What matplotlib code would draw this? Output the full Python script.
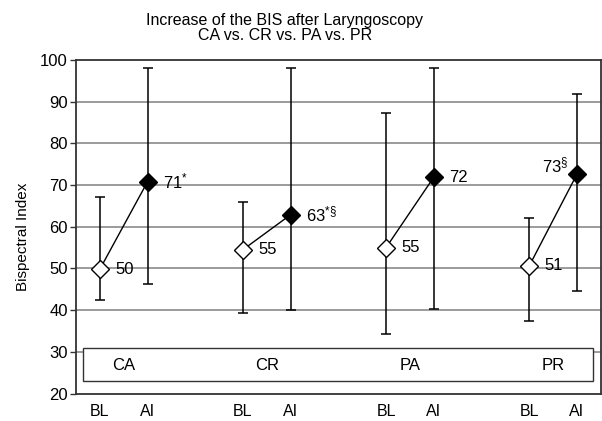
import matplotlib
matplotlib.use("Agg")
import matplotlib.pyplot as plt
from matplotlib.patches import Rectangle

plt.rcParams['font.family'] = ['Liberation Sans', 'DejaVu Sans']
plt.rcParams['mathtext.fontset'] = 'custom'
plt.rcParams['mathtext.rm'] = 'Liberation Sans'
plt.rcParams['mathtext.it'] = 'Liberation Sans'
plt.rcParams['mathtext.bf'] = 'Liberation Sans'

groups = ["CA", "CR", "PA", "PR"]
tick_labels = ["BL", "AI"]
bl_mean = [49.8, 54.5, 55.0, 50.6]
ai_mean = [70.8, 62.9, 71.9, 72.6]
bl_upper = [67.2, 66.0, 87.3, 62.2]
bl_lower = [42.4, 39.3, 34.3, 37.4]
ai_upper = [98.2, 98.2, 98.0, 91.9]
ai_lower = [46.2, 40.0, 40.2, 44.5]
bl_text = ["50", "55", "55", "51"]
ai_text = [r"71$^{*}$", r"63$^{*\S}$", "72", r"73$^{\S}$"]

fig = plt.figure(figsize=(6.02, 4.21), dpi=100)
bottom = 1 - 393.5 / 421
top = 1 - 60 / 421
ax = fig.add_axes([0.1262, bottom, 0.998 - 0.1262, top - bottom])

ax.set_xlim(-0.5, 10.5)
ax.set_ylim(20, 100)
ax.set_yticks(range(20, 101, 10))
for y in range(30, 100, 10):
    ax.axhline(y, color="#808080", lw=1.1, zorder=0)

bl_x = [3 * i for i in range(len(groups))]
ai_x = [3 * i + 1 for i in range(len(groups))]

for i in range(len(groups)):
    ax.plot([bl_x[i], ai_x[i]], [bl_mean[i], ai_mean[i]], color="black", lw=1.0, zorder=3)

ax.errorbar(bl_x, bl_mean,
            yerr=[[m - l for m, l in zip(bl_mean, bl_lower)], [u - m for m, u in zip(bl_mean, bl_upper)]],
            fmt="none", ecolor="black", elinewidth=1.1, capsize=3.6, capthick=1.1, zorder=2)
ax.errorbar(ai_x, ai_mean,
            yerr=[[m - l for m, l in zip(ai_mean, ai_lower)], [u - m for m, u in zip(ai_mean, ai_upper)]],
            fmt="none", ecolor="black", elinewidth=1.1, capsize=3.6, capthick=1.1, zorder=2)

ax.plot(bl_x, bl_mean, linestyle="none", marker="D", ms=9.5, mfc="white", mec="black", mew=1.0, zorder=4)
ax.plot(ai_x, ai_mean, linestyle="none", marker="D", ms=9.5, mfc="black", mec="black", mew=1.0, zorder=4)

for i in range(len(groups)):
    ax.annotate(bl_text[i], (bl_x[i], bl_mean[i]), xytext=(11, 0), textcoords="offset points",
                ha="left", va="center", fontsize=12)
    if i == 3:
        ax.annotate(ai_text[i], (ai_x[i], ai_mean[i]), xytext=(-6, 6), textcoords="offset points",
                    ha="right", va="center", fontsize=12)
    else:
        ax.annotate(ai_text[i], (ai_x[i], ai_mean[i]), xytext=(11, 0), textcoords="offset points",
                    ha="left", va="center", fontsize=12)

rect = Rectangle((-0.36, 22.9), 10.7, 7.9, facecolor="white", edgecolor="#333333", lw=1.0, zorder=1.5)
ax.add_patch(rect)
for i, g in enumerate(groups):
    ax.text((bl_x[i] + ai_x[i]) / 2, 26.8, g, ha="center", va="center", fontsize=12, zorder=5)

xt = []
xl = []
for i in range(len(groups)):
    xt += [bl_x[i], ai_x[i]]
    xl += tick_labels
ax.set_xticks(xt)
ax.set_xticklabels(xl, fontsize=11.5)
ax.tick_params(axis="x", length=0, pad=7.5)
ax.tick_params(axis="y", length=4, width=1, labelsize=12, pad=2, color="#333333")

for s in ax.spines.values():
    s.set_color("#333333")
    s.set_linewidth(1.3)

ax.set_ylabel("Bispectral Index", fontsize=11)
ax.yaxis.set_label_coords(-0.088, 0.47)

fig.text(285 / 602, 1 - 20.5 / 421, "Increase of the BIS after Laryngoscopy", ha="center", va="center", fontsize=11.5)
fig.text(285 / 602, 1 - 35 / 421, "CA vs. CR vs. PA vs. PR", ha="center", va="center", fontsize=11.5)

fig.savefig("out.png", dpi=100)
